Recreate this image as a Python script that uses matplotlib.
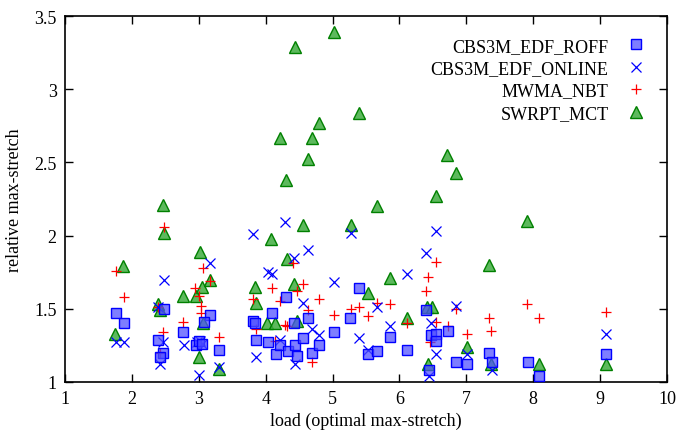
import matplotlib
matplotlib.use("Agg")
import matplotlib.pyplot as plt
from matplotlib.ticker import FixedLocator, FuncFormatter

plt.rcParams['font.family'] = ['Liberation Serif', 'DejaVu Serif']

# CBS3M_EDF_ROFF (squares)
roff_x = [1.76, 1.88, 2.48, 2.39, 2.47, 2.42, 2.77, 3.17, 3.08, 2.96, 3.00, 3.05, 3.30,
          3.81, 3.84, 3.85, 4.03, 4.15, 4.21, 4.09, 4.30, 4.33, 4.44, 4.47, 4.42, 4.56,
          4.63, 4.69, 4.80, 5.02, 5.26, 5.39, 5.86, 5.53, 5.66, 6.11, 6.40, 6.47, 6.55,
          6.55, 6.72, 6.44, 6.85, 7.01, 7.34, 7.38, 7.92, 8.09, 9.09]
roff_y = [1.47, 1.40, 1.50, 1.29, 1.20, 1.17, 1.34, 1.46, 1.41, 1.25, 1.28, 1.26, 1.22,
          1.42, 1.40, 1.29, 1.27, 1.19, 1.25, 1.47, 1.58, 1.21, 1.25, 1.18, 1.40, 1.30,
          1.44, 1.20, 1.25, 1.34, 1.44, 1.64, 1.31, 1.19, 1.21, 1.22, 1.49, 1.32, 1.33,
          1.28, 1.35, 1.08, 1.14, 1.12, 1.20, 1.14, 1.14, 1.04, 1.19]

# CBS3M_EDF_ONLINE (crosses)
online_x = [1.76, 1.88, 2.48, 2.39, 2.47, 2.42, 2.78, 3.17, 2.97, 3.02, 3.05, 3.00, 3.30,
            3.81, 4.29, 4.63, 4.42, 4.03, 4.09, 5.02, 4.56, 4.69, 4.80, 4.21, 3.85, 4.44,
            5.27, 6.55, 6.40, 6.11, 5.66, 5.86, 5.39, 5.53, 6.47, 6.84, 6.55, 6.44, 7.01,
            7.38, 9.09]
online_y = [1.27, 1.27, 1.70, 1.51, 1.27, 1.12, 1.25, 1.81, 1.27, 1.28, 1.26, 1.05, 1.10,
            2.01, 2.09, 1.90, 1.85, 1.75, 1.74, 1.68, 1.54, 1.36, 1.32, 1.29, 1.17, 1.12,
            2.02, 2.03, 1.88, 1.74, 1.51, 1.38, 1.30, 1.22, 1.40, 1.52, 1.19, 1.04, 1.19,
            1.08, 1.33]

# MWMA_NBT (plus)
mwma_x = [1.76, 1.88, 2.48, 2.39, 2.47, 2.42, 2.77, 3.07, 3.17, 2.95, 3.00, 3.03, 3.04,
          3.30, 3.81, 3.85, 4.09, 4.14, 4.21, 4.29, 4.32, 4.41, 4.47, 4.56, 4.63, 4.69,
          4.80, 5.02, 5.27, 5.39, 5.53, 5.66, 5.86, 6.11, 6.40, 6.43, 6.46, 6.55, 6.55,
          6.72, 6.84, 7.01, 7.34, 7.37, 7.91, 8.09, 9.09]
mwma_y = [1.76, 1.58, 2.06, 1.51, 1.34, 1.20, 1.41, 1.78, 1.69, 1.64, 1.59, 1.52, 1.47,
          1.31, 1.57, 1.36, 1.64, 1.28, 1.55, 1.39, 1.38, 1.81, 1.62, 1.67, 1.49, 1.14,
          1.57, 1.46, 1.50, 1.51, 1.45, 1.54, 1.53, 1.40, 1.62, 1.72, 1.27, 1.82, 1.41,
          1.38, 1.50, 1.33, 1.44, 1.35, 1.53, 1.44, 1.48]

# SWRPT_MCT (triangles)
swrpt_x = [1.75, 1.87, 2.39, 2.42, 2.46, 2.48, 2.76, 2.96, 3.02, 3.05, 3.17, 3.00, 3.30,
           3.07, 3.84, 3.86, 4.02, 4.14, 4.08, 4.32, 4.42, 4.47, 4.30, 4.56, 4.63, 4.21,
           4.69, 4.80, 4.44, 5.02, 5.27, 5.39, 5.53, 5.66, 5.86, 6.11, 6.41, 6.49, 6.43,
           6.55, 6.71, 6.85, 7.01, 7.34, 7.37, 7.91, 8.09, 9.09]
swrpt_y = [1.33, 1.79, 1.53, 1.49, 2.21, 2.02, 1.59, 1.59, 1.89, 1.65, 1.70, 1.17, 1.09,
           1.40, 1.65, 1.54, 1.40, 1.40, 1.98, 1.84, 1.67, 1.42, 2.38, 2.07, 2.52, 2.67,
           2.67, 2.77, 3.29, 3.39, 2.07, 2.84, 1.61, 2.20, 1.71, 1.44, 1.51, 1.51, 1.12,
           2.27, 2.55, 2.43, 1.24, 1.80, 1.12, 2.10, 1.12, 1.12]

labels = ["CBS3M_EDF_ROFF", "CBS3M_EDF_ONLINE", "MWMA_NBT", "SWRPT_MCT"]
x_ticks = [1, 2, 3, 4, 5, 6, 7, 8, 9, 10]
y_ticks = [1, 1.5, 2, 2.5, 3, 3.5]

fig = plt.figure(figsize=(6.81, 4.31), dpi=100)
ax = fig.add_axes([65/681, 1-383/431, (667-65)/681, (383-17)/431])

h1, = ax.plot(roff_x, roff_y, ls='none', marker='s', markersize=7,
              markerfacecolor=(0.3, 0.3, 1.0, 0.72), markeredgecolor='#0000ff',
              markeredgewidth=1.0, zorder=5, label=labels[0])
h2, = ax.plot(online_x, online_y, ls='none', marker='x', markersize=6.5,
              color='#0000ff', markeredgewidth=0.9, zorder=4, label=labels[1])
h3, = ax.plot(mwma_x, mwma_y, ls='none', marker='+', markersize=7,
              color='#ff0000', markeredgewidth=0.9, zorder=3, label=labels[2])
h4, = ax.plot(swrpt_x, swrpt_y, ls='none', marker='^', markersize=8,
              markerfacecolor=(0.25, 0.68, 0.25, 0.85), markeredgecolor='#008000',
              markeredgewidth=1.0, zorder=2, label=labels[3])

ax.set_xlim(1, 10)
ax.set_ylim(1, 3.5)
ax.xaxis.set_major_locator(FixedLocator(x_ticks))
ax.yaxis.set_major_locator(FixedLocator(y_ticks))
ax.yaxis.set_major_formatter(FuncFormatter(lambda v, p: f"{v:g}"))
ax.tick_params(direction='in', length=6, width=1, top=True, right=True,
               labelsize=13, pad=6)
for s in ax.spines.values():
    s.set_linewidth(1.2)

ax.set_xlabel("load (optimal max-stretch)", fontsize=13, labelpad=3)
ax.set_ylabel("relative max-stretch", fontsize=13, labelpad=8)

leg = ax.legend(handles=[h1, h2, h3, h4], loc='upper right', markerfirst=False,
                frameon=False, fontsize=13, handlelength=1.4, handletextpad=0.8,
                labelspacing=0.3, bbox_to_anchor=(0.99, 0.975), borderaxespad=0.3)

fig.savefig("out.png", dpi=100)
